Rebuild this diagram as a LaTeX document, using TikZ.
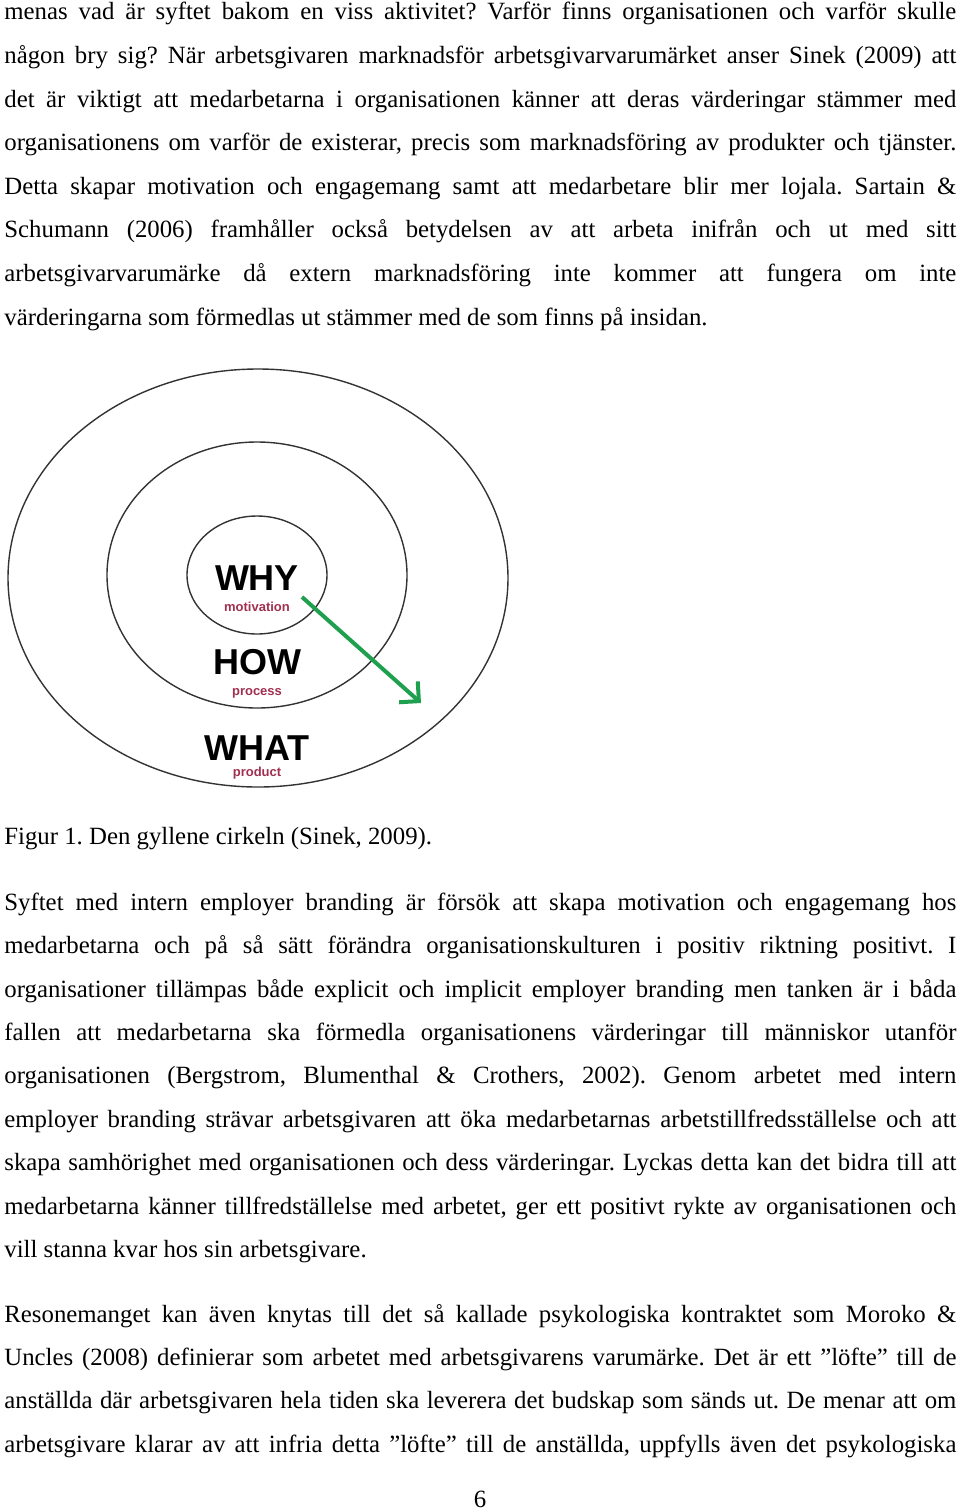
\documentclass[tikz,border=0pt]{standalone}
\usepackage{fontspec}
\setmainfont{Liberation Serif}
\newfontfamily\diagsans{Liberation Sans}
\usetikzlibrary{shapes.geometric,arrows.meta}
\definecolor{labred}{HTML}{A03050}
\definecolor{arrgreen}{HTML}{1FA04E}
\newcommand{\jline}[1]{\makebox[476pt][s]{#1}}
\frenchspacing
\begin{document}
\begin{tikzpicture}[x=0.5pt,y=-0.5pt,
  txt/.style={anchor=base west,inner sep=0pt,font=\fontsize{12.4pt}{14pt}\selectfont},
  ring/.style={draw=black!80,line width=0.7pt,ellipse,inner sep=0pt},
  big/.style={inner sep=0pt,font=\diagsans\bfseries\fontsize{18pt}{20pt}\selectfont},
  small/.style={inner sep=0pt,text=labred,font=\diagsans\bfseries\fontsize{6.5pt}{7pt}\selectfont}]
\useasboundingbox (0,0) rectangle (960,1512);
% paragraph 1
\node[txt] (a1) at (4,19) {\jline{menas vad är syftet bakom en viss aktivitet? Varför finns organisationen och varför skulle}};
\node[txt] (a2) at (4,63) {\jline{någon bry sig? När arbetsgivaren marknadsför arbetsgivarvarumärket anser Sinek (2009) att}};
\node[txt] (a3) at (4,107) {\jline{det är viktigt att medarbetarna i organisationen känner att deras värderingar stämmer med}};
\node[txt] (a4) at (4,150) {\jline{organisationens om varför de existerar, precis som marknadsföring av produkter och tjänster.}};
\node[txt] (a5) at (4,194) {\jline{Detta skapar motivation och engagemang samt att medarbetare blir mer lojala. Sartain \&}};
\node[txt] (a6) at (4,237) {\jline{Schumann (2006) framhåller också betydelsen av att arbeta inifrån och ut med sitt}};
\node[txt] (a7) at (4,281) {\jline{arbetsgivarvarumärke då extern marknadsföring inte kommer att fungera om inte}};
\node[txt] (a8) at (4,325) {värderingarna som förmedlas ut stämmer med de som finns på insidan.};
% diagram
\node[ring,minimum width=250pt,minimum height=209pt] (outer) at (258,578) {};
\node[ring,minimum width=150pt,minimum height=133pt] (middle) at (257,575) {};
\node[ring,minimum width=70pt,minimum height=59pt] (inner) at (257,575) {};
\node[big] (why) at (257,578) {WHY};
\node[small] (mot) at (257,607) {motivation};
\node[big] (how) at (257,662) {HOW};
\node[small] (proc) at (257,693) {process};
\node[big] (what) at (257,748) {WHAT};
\node[small] (prod) at (257,773) {product};
\coordinate (s) at (302,597);
\coordinate (e) at (421,703);
\draw[arrgreen,line width=2pt,-{Straight Barb[length=7pt,width=14pt,line width=2pt]}] (s) -- (e);
% caption
\node[txt] (cap) at (4,844) {Figur 1. Den gyllene cirkeln (Sinek, 2009).};
% paragraph 2
\node[txt] (b1) at (4,910) {\jline{Syftet med intern employer branding är försök att skapa motivation och engagemang hos}};
\node[txt] (b2) at (4,953) {\jline{medarbetarna och på så sätt förändra organisationskulturen i positiv riktning positivt. I}};
\node[txt] (b3) at (4,997) {\jline{organisationer tillämpas både explicit och implicit employer branding men tanken är i båda}};
\node[txt] (b4) at (4,1040) {\jline{fallen att medarbetarna ska förmedla organisationens värderingar till människor utanför}};
\node[txt] (b5) at (4,1083) {\jline{organisationen (Bergstrom, Blumenthal \& Crothers, 2002). Genom arbetet med intern}};
\node[txt] (b6) at (4,1127) {\jline{employer branding strävar arbetsgivaren att öka medarbetarnas arbetstillfredsställelse och att}};
\node[txt] (b7) at (4,1170) {\jline{skapa samhörighet med organisationen och dess värderingar. Lyckas detta kan det bidra till att}};
\node[txt] (b8) at (4,1214) {\jline{medarbetarna känner tillfredställelse med arbetet, ger ett positivt rykte av organisationen och}};
\node[txt] (b9) at (4,1257) {vill stanna kvar hos sin arbetsgivare.};
% paragraph 3
\node[txt] (c1) at (4,1322) {\jline{Resonemanget kan även knytas till det så kallade psykologiska kontraktet som Moroko \&}};
\node[txt] (c2) at (4,1365) {\jline{Uncles (2008) definierar som arbetet med arbetsgivarens varumärke. Det är ett ”löfte” till de}};
\node[txt] (c3) at (4,1408) {\jline{anställda där arbetsgivaren hela tiden ska leverera det budskap som sänds ut. De menar att om}};
\node[txt] (c4) at (4,1452) {\jline{arbetsgivare klarar av att infria detta ”löfte” till de anställda, uppfylls även det psykologiska}};
\node[txt,anchor=base] (pg) at (480,1507) {6};
\end{tikzpicture}
\end{document}
